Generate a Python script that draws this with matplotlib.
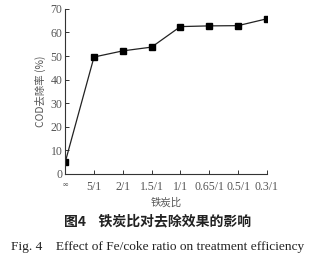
import matplotlib.pyplot as plt

# data
ratios = ['∞', '5/1', '2/1', '1.5/1', '1/1', '0.65/1', '0.5/1', '0.3/1']
cod_removal = [5.0, 49.6, 52.2, 53.8, 62.5, 62.8, 62.9, 65.8]
yticks = [0, 10, 20, 30, 40, 50, 60, 70]

serif = ['Liberation Serif', 'DejaVu Serif']
cjk = ['Noto Sans CJK SC', 'DejaVu Sans']
grey = '#555555'

fig = plt.figure(figsize=(3.15, 2.62), dpi=100)
ax = fig.add_axes([0.207, 0.336, 0.640, 0.630])

x = list(range(len(ratios)))
ax.plot(x, cod_removal, color='#222222', lw=0.9, marker='s', ms=3.8,
        mfc='black', mec='black')

ax.set_xlim(0, len(ratios) - 1)
ax.set_ylim(0, 70)
ax.set_xticks(x)
ax.set_xticklabels(ratios)
ax.set_yticks(yticks)
for lab in ax.get_xticklabels() + ax.get_yticklabels():
    lab.set_family(serif)
    lab.set_fontsize(8.5)
    lab.set_color(grey)
ax.get_xticklabels()[0].set_fontsize(5.5)

ax.tick_params(direction='in', length=3, width=0.7, colors='#333333', pad=2)
ax.tick_params(axis='x', pad=5)
ax.tick_params(labelcolor=grey)
ax.spines['top'].set_visible(False)
ax.spines['right'].set_visible(False)
for s in ['left', 'bottom']:
    ax.spines[s].set_linewidth(0.8)
    ax.spines[s].set_color('#333333')

ax.set_ylabel('COD去除率 (%)', family=cjk, fontsize=7.5, color=grey, labelpad=3)
ax.set_xlabel('铁炭比', family=cjk, fontsize=7.5, color=grey, labelpad=3)

fig.text(0.50, 0.155, '图4    铁炭比对去除效果的影响', family=cjk, fontsize=10,
         fontweight='bold', ha='center', va='center', color='#222222')
fig.text(0.50, 0.057, 'Fig. 4    Effect of Fe/coke ratio on treatment efficiency',
         family=serif, fontsize=9.6, ha='center', va='center', color='#222222')

fig.savefig('out.png', dpi=100)
